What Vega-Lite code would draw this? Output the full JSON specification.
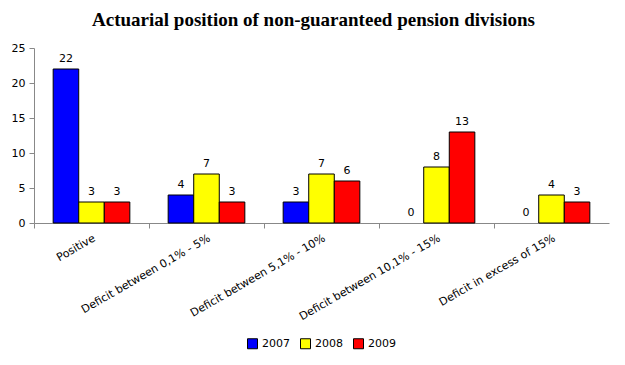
{
  "$schema": "https://vega.github.io/schema/vega-lite/v6.json",
  "width": 575,
  "height": 175,
  "autosize": {"type": "none"},
  "padding": {"left": 34, "top": 48, "right": 16, "bottom": 142},
  "background": "white",
  "title": {
    "text": "Actuarial position of non-guaranteed pension divisions",
    "font": "Liberation Serif",
    "fontSize": 19,
    "fontWeight": "bold",
    "color": "black",
    "anchor": "middle",
    "offset": 12,
    "dx": -8
  },
  "data": {
    "values": [
      {"category": "Positive", "year": "2007", "value": 22},
      {"category": "Positive", "year": "2008", "value": 3},
      {"category": "Positive", "year": "2009", "value": 3},
      {"category": "Deficit between 0,1% - 5%", "year": "2007", "value": 4},
      {"category": "Deficit between 0,1% - 5%", "year": "2008", "value": 7},
      {"category": "Deficit between 0,1% - 5%", "year": "2009", "value": 3},
      {"category": "Deficit between 5,1% - 10%", "year": "2007", "value": 3},
      {"category": "Deficit between 5,1% - 10%", "year": "2008", "value": 7},
      {"category": "Deficit between 5,1% - 10%", "year": "2009", "value": 6},
      {"category": "Deficit between 10,1% - 15%", "year": "2007", "value": 0},
      {"category": "Deficit between 10,1% - 15%", "year": "2008", "value": 8},
      {"category": "Deficit between 10,1% - 15%", "year": "2009", "value": 13},
      {"category": "Deficit in excess of 15%", "year": "2007", "value": 0},
      {"category": "Deficit in excess of 15%", "year": "2008", "value": 4},
      {"category": "Deficit in excess of 15%", "year": "2009", "value": 3}
    ]
  },
  "encoding": {
    "x": {
      "field": "category",
      "type": "nominal",
      "sort": null,
      "scale": {"paddingInner": 0, "paddingOuter": 0},
      "axis": {
        "title": null,
        "labelAngle": -30,
        "labelAlign": "right",
        "labelBaseline": "top",
        "labelFont": "DejaVu Sans",
        "labelFontSize": 11,
        "labelColor": "black",
        "labelPadding": 4,
        "bandPosition": 0,
        "tickSize": 5,
        "tickColor": "#888888",
        "domainColor": "#888888",
        "labelOffset": 0
      }
    },
    "xOffset": {
      "field": "year",
      "type": "nominal",
      "scale": {"paddingInner": 0, "paddingOuter": 0.75}
    },
    "y": {
      "field": "value",
      "type": "quantitative",
      "scale": {"domain": [0, 25]},
      "axis": {
        "title": null,
        "values": [0, 5, 10, 15, 20, 25],
        "grid": false,
        "labelFont": "DejaVu Sans",
        "labelFontSize": 11,
        "labelColor": "black",
        "tickSize": 5,
        "tickColor": "#888888",
        "domainColor": "#888888",
        "labelPadding": 4
      }
    }
  },
  "layer": [
    {
      "transform": [{"filter": "datum.value > 0"}],
      "mark": {"type": "bar", "stroke": "black", "strokeWidth": 1},
      "encoding": {
        "color": {
          "field": "year",
          "type": "nominal",
          "scale": {"domain": ["2007", "2008", "2009"], "range": ["#0000ff", "#ffff00", "#ff0000"]},
          "legend": {
            "title": null,
            "orient": "bottom",
            "direction": "horizontal",
            "symbolType": "square",
            "symbolStrokeColor": "black",
            "symbolStrokeWidth": 1,
            "symbolSize": 100,
            "labelFont": "DejaVu Sans",
            "labelFontSize": 11,
            "labelColor": "black",
            "columnPadding": 8,
            "offset": 16
          }
        }
      }
    },
    {
      "mark": {"type": "text", "dy": -10, "font": "DejaVu Sans", "fontSize": 11, "color": "black"},
      "encoding": {
        "text": {"field": "value", "type": "quantitative"}
      }
    }
  ],
  "config": {
    "view": {"stroke": null},
    "legend": {"layout": {"bottom": {"anchor": "middle"}}}
  }
}
